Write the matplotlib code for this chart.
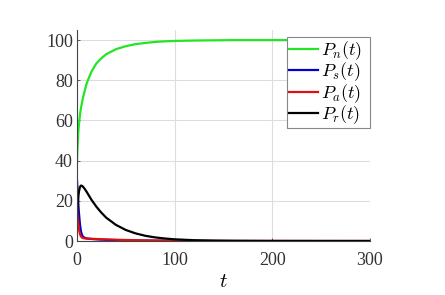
import matplotlib
matplotlib.use("Agg")
import matplotlib.pyplot as plt
import numpy as np

plt.rcParams['font.family'] = ['Liberation Serif', 'DejaVu Serif']
plt.rcParams['mathtext.fontset'] = 'cm'

# values
t = [0, 0.5, 1, 1.5, 2, 3, 4, 5, 6, 7, 8, 10, 12, 15, 20, 25, 30, 40, 50, 60,
     70, 80, 90, 100, 120, 140, 160, 200, 250, 300]
P_n = [40, 46, 51, 55, 58, 62.5, 66, 68.5, 71, 73, 75, 78.5, 81, 84.5, 88.5,
       91, 93, 95.5, 97, 98, 98.6, 99.1, 99.4, 99.6, 99.8, 99.9, 100, 100,
       100, 100]
P_s = [30, 26, 21.5, 17.5, 14, 8.5, 5, 3.2, 2.3, 1.9, 1.6, 1.3, 1.15, 1.0,
       0.85, 0.7, 0.6, 0.45, 0.35, 0.27, 0.2, 0.15, 0.12, 0.09, 0.05, 0.03,
       0.02, 0.01, 0, 0]
P_a = [20, 15, 11, 8.3, 6, 3.5, 2.3, 1.8, 1.5, 1.4, 1.3, 1.2, 1.15, 1.1, 1.0,
       0.9, 0.8, 0.65, 0.5, 0.4, 0.3, 0.25, 0.2, 0.15, 0.08, 0.04, 0.02,
       0.01, 0, 0]
P_r = [10, 15.5, 19.5, 22.5, 24.6, 26.8, 27.6, 27.5, 27.1, 26.5, 25.9, 24.4,
       22.8, 20.4, 17, 14.1, 11.6, 8.0, 5.5, 3.8, 2.6, 1.8, 1.25, 0.85, 0.4,
       0.2, 0.1, 0.03, 0.01, 0]
labels = [r'$P_n(t)$  ', r'$P_s(t)$  ', r'$P_a(t)$  ', r'$P_r(t)$  ']
colors = ['#22e622', '#0000d0', '#e01010', 'black']

fig = plt.figure(figsize=(4.45, 2.95), dpi=100)
ax = fig.add_axes([0.173, 0.183, 0.658, 0.715])

for y, lab, c in zip([P_n, P_s, P_a, P_r], labels, colors):
    ax.plot(t, y, color=c, lw=1.6, label=lab)

ax.set_xlim(0, 300)
ax.set_ylim(0, 105)
ax.set_xticks([0, 100, 200, 300])
ax.set_yticks([0, 20, 40, 60, 80, 100])
ax.grid(True, color='#dddddd', lw=0.8)
ax.set_axisbelow(True)
for s in ['top', 'right']:
    ax.spines[s].set_visible(False)
for s in ['left', 'bottom']:
    ax.spines[s].set_color('#444444')
    ax.spines[s].set_linewidth(0.8)
ax.tick_params(direction='in', length=2, width=0.6, labelsize=13,
               colors='#444444', labelcolor='#333333')
ax.tick_params(axis='y', pad=3)
ax.tick_params(axis='x', pad=8)
ax.set_xlabel(r'$t$', fontsize=15, labelpad=3)

leg = ax.legend(loc='upper right', fontsize=13, frameon=True, fancybox=False,
                edgecolor='#888888', framealpha=1, borderpad=0.1,
                handlelength=1.6, handletextpad=0.15, labelspacing=-0.07,
                bbox_to_anchor=(1.0, 0.965), borderaxespad=0)
leg.get_frame().set_linewidth(0.8)

fig.savefig('out.png', dpi=100)
